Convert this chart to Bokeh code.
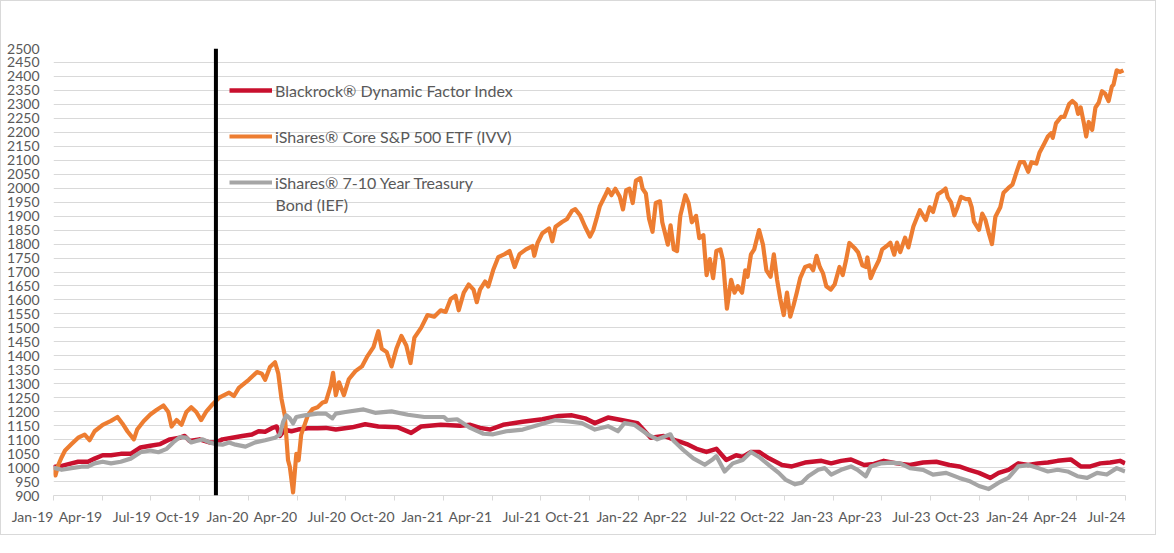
from bokeh.plotting import figure
from bokeh.models import FixedTicker, Span, Legend, LegendItem, Label, Range1d
from bokeh.embed import file_html
from bokeh.resources import INLINE

# x values are months since Jan 2019 (0 = Jan-19, 66 = Jul-24)
tick_labels = ["Jan-19", "Apr-19", "Jul-19", "Oct-19", "Jan-20", "Apr-20", "Jul-20", "Oct-20",
               "Jan-21", "Apr-21", "Jul-21", "Oct-21", "Jan-22", "Apr-22", "Jul-22", "Oct-22",
               "Jan-23", "Apr-23", "Jul-23", "Oct-23", "Jan-24", "Apr-24", "Jul-24"]
tick_months = [0, 3, 6, 9, 12, 15, 18, 21, 24, 27, 30, 33, 36, 39, 42, 45, 48, 51, 54, 57, 60, 63, 66]
y_ticks = [900, 950, 1000, 1050, 1100, 1150, 1200, 1250, 1300, 1350, 1400, 1450, 1500, 1550,
           1600, 1650, 1700, 1750, 1800, 1850, 1900, 1950, 2000, 2050, 2100, 2150, 2200, 2250,
           2300, 2350, 2400, 2450, 2500]
inception_month = 10

# iShares Core S&P 500 ETF (IVV)
ivv_t = [0, 0.12, 0.3, 0.51, 0.71, 1.11, 1.52, 1.92, 2.22, 2.53, 3.03, 3.54, 3.94, 4.24, 4.55, 4.95,
         5.15, 5.56, 5.96, 6.36, 6.77, 7.07, 7.27, 7.58, 7.88, 8.18, 8.48, 8.79, 9.09, 9.39, 9.80,
         10.20, 10.81, 11.11, 11.41, 12.02, 12.53, 12.83, 13.03, 13.33, 13.64, 13.84, 14.04, 14.24,
         14.44, 14.55, 14.75, 14.95, 15.09, 15.25, 15.66, 15.96, 16.26, 16.57,
         16.77, 17.07, 17.21, 17.38, 17.58, 17.88, 18.18, 18.59, 18.99, 19.30, 19.70, 20.00, 20.21,
         20.51, 20.81, 21.11, 21.42, 21.72, 21.98, 22.22, 22.63, 23.03, 23.44, 23.84, 24.14, 24.45,
         24.75, 24.95, 25.26, 25.56, 25.86, 26.06, 26.26, 26.57, 26.77, 27.07, 27.38, 27.78, 28.08,
         28.39, 28.69, 29.09, 29.49, 29.60, 29.80, 30.10, 30.51, 30.71, 30.91, 31.31, 31.62, 31.92,
         32.12, 32.43, 32.73, 33.03, 33.23, 33.43, 33.64, 33.94, 34.14,
         34.35, 34.59, 34.86, 35.06, 35.26, 35.46, 35.66, 35.86, 36.13, 36.27, 36.47, 36.67, 36.88,
         37.08, 37.34, 37.48, 37.68, 37.82, 37.99, 38.19, 38.39, 38.59, 38.90, 39.10, 39.30, 39.56,
         39.76, 40.01, 40.21, 40.41, 40.61, 40.81, 41.06, 41.22, 41.46, 41.72, 41.93, 42.13, 42.39,
         42.59, 42.73, 42.94, 43.14, 43.44, 43.68, 43.89, 44.15, 44.35, 44.55, 44.75, 44.96, 45.16,
         45.36, 45.56, 45.76, 45.97, 46.27, 46.57, 46.77, 46.98, 47.18, 47.38, 47.58, 47.85, 48.09,
         48.39, 48.59, 48.79, 49.00, 49.30, 49.54, 49.80, 50.01, 50.11, 50.31, 50.51, 50.81, 51.02,
         51.32, 51.52, 51.76, 51.93, 52.13, 52.43, 52.63, 52.94, 53.34, 53.70, 53.95, 54.15, 54.45,
         54.75, 54.92, 55.06, 55.26, 55.46, 55.66, 55.87, 56.17, 56.37, 56.53, 56.67, 56.98, 57.18,
         57.38, 57.58, 57.78, 57.99, 58.29, 58.49, 58.79, 59.04, 59.30, 59.50, 59.76, 60.01, 60.21,
         60.51, 60.71, 61.02, 61.22, 61.42, 61.52, 61.72, 62.03, 62.23, 62.53, 62.73, 62.94, 63.08,
         63.24, 63.44, 63.58, 63.74, 63.95, 64.15, 64.35, 64.55, 64.75, 64.96, 65.16, 65.26, 65.46,
         65.66, 65.87]
ivv_v = [1000, 972, 1010, 1038, 1061, 1084, 1107, 1118, 1098, 1130, 1153, 1167, 1181, 1158, 1130, 1101,
         1136, 1167, 1190, 1207, 1222, 1199, 1147, 1170, 1153, 1199, 1216, 1199, 1170, 1199, 1227,
         1250, 1268, 1256, 1285, 1314, 1342, 1336, 1314, 1360, 1377, 1336, 1245, 1187,
         1026, 1003, 911, 1049, 1026, 1118, 1187, 1210, 1216, 1233,
         1236, 1293, 1339, 1259, 1305, 1259, 1316, 1345, 1362, 1396, 1431, 1488, 1425,
         1414, 1362, 1425, 1471, 1437, 1374, 1465, 1500, 1546, 1540, 1563, 1557, 1603,
         1615, 1563, 1626, 1655, 1637, 1592, 1637, 1666, 1648, 1707, 1753, 1764, 1775,
         1718, 1764, 1781, 1793, 1758, 1804, 1839, 1856, 1810, 1862, 1879, 1890, 1919,
         1925, 1902, 1862, 1827, 1850, 1890, 1936, 1971, 1996,
         1975, 1998, 1970, 1924, 1993, 1998, 1947, 2027, 2036, 1998, 1981, 1890, 1844,
         1947, 1953, 1878, 1832, 1798, 1867, 1781, 1775, 1901, 1975, 1947, 1878, 1901,
         1821, 1832, 1689, 1746, 1678, 1775, 1781, 1741, 1569, 1672, 1626, 1649, 1626,
         1706, 1683, 1763, 1781, 1850, 1798, 1706, 1683, 1763, 1672, 1603, 1546, 1626,
         1540, 1580, 1626, 1678, 1718, 1724, 1706, 1758, 1718, 1695, 1649, 1637, 1655,
         1718, 1689, 1741, 1804, 1787, 1770, 1724, 1718, 1752, 1678, 1706, 1741, 1781,
         1794, 1805, 1762, 1805, 1771, 1823, 1788, 1863, 1921, 1886, 1932, 1915, 1978,
         1990, 1999, 1967, 1949, 1903, 1932, 1969, 1961, 1961, 1932, 1880, 1851, 1909,
         1886, 1840, 1800, 1898, 1932, 1984, 2001, 2013, 2059, 2093, 2093, 2059, 2093,
         2088, 2128, 2162, 2185, 2197, 2180, 2232, 2255, 2255, 2301, 2312, 2301, 2266,
         2289, 2232, 2185, 2237, 2209, 2289, 2306, 2347, 2338, 2312, 2364, 2370, 2422,
         2416, 2422]

# Blackrock Dynamic Factor Index
bdf_t = [0, 0.10, 0.51, 1.11, 1.52, 2.12, 2.53, 3.03, 3.54, 4.14, 4.75, 5.36, 5.96, 6.57, 7.17, 7.78,
         8.08, 8.38, 8.99, 9.60, 10.00, 10.40, 11.01, 11.62, 12.22, 12.63, 13.03, 13.44, 13.74, 13.94,
         14.24, 14.65, 15.05, 15.66, 16.26,
         16.77, 17.38, 18.38, 19.19, 20.00, 21.21, 22.02, 22.63, 23.84, 25.05, 25.66, 26.26, 26.87,
         27.68, 28.89, 30.10, 31.11, 31.92, 32.73, 33.33, 34.14, 34.95, 35.96, 36.77, 37.58, 38.38,
         38.99, 39.59, 40.20, 40.81,
         41.42, 42.03, 42.43, 42.94, 43.44, 44.05, 44.85, 45.46, 46.27, 47.28, 47.88, 48.49, 49.10,
         49.91, 50.51, 51.12, 51.92, 52.73, 53.54, 54.35, 55.16, 55.76, 56.37, 56.98, 57.68, 58.19,
         58.79, 59.40, 60.01, 60.61, 61.22, 61.82, 62.63, 63.24, 63.84, 64.45, 65.06, 65.66, 65.97]
bdf_v = [1000, 1003, 1006, 1015, 1021, 1021, 1032, 1044, 1044, 1049, 1049, 1072, 1078, 1084, 1101, 1107,
         1113, 1095, 1101, 1090, 1090, 1101, 1107, 1113, 1118, 1130, 1128, 1141, 1147, 1113,
         1136, 1130, 1136, 1141, 1141,
         1142, 1136, 1144, 1155, 1147, 1144, 1124, 1147, 1153, 1150, 1153, 1142, 1136,
         1153, 1164, 1173, 1185, 1187, 1176, 1159, 1179, 1170, 1159, 1107, 1113, 1096,
         1084, 1067, 1056, 1067,
         1027, 1044, 1038, 1056, 1056, 1033, 1009, 1004, 1018, 1024, 1015, 1024, 1029,
         1009, 1013, 1024, 1015, 1009, 1018, 1021, 1009, 1004, 992, 981, 963, 981,
         992, 1015, 1009, 1015, 1018, 1024, 1029, 1004, 1004, 1015, 1018, 1024, 1015]

# iShares 7-10 Year Treasury Bond (IEF)
ief_t = [0, 0.10, 0.51, 1.11, 1.72, 2.12, 2.53, 3.03, 3.54, 4.14, 4.75, 5.36, 5.96, 6.46, 6.97, 7.37,
         7.78, 8.18, 8.48, 8.79, 9.19, 9.60, 10.00, 10.40, 10.81, 11.21, 11.82, 12.42, 13.03, 13.64,
         13.94, 14.14, 14.34, 14.55, 14.75, 14.95, 15.46, 16.26,
         16.77, 17.17, 17.38, 17.98, 19.09, 19.80, 20.81, 21.82, 22.83, 24.04, 24.24, 24.85, 25.66,
         26.47, 27.07, 27.88, 28.89, 29.90, 30.91, 31.72, 32.53, 33.33, 34.14, 34.75, 35.15, 35.76,
         36.57, 37.17, 37.98, 38.18, 38.79, 39.39, 40.10, 40.60, 40.81,
         41.32, 41.82, 42.43, 42.94, 43.44, 44.05, 44.65, 45.06, 45.66, 46.07, 46.47, 47.08, 47.48,
         47.88, 48.49, 49.10, 49.50, 50.01, 50.31, 50.92, 51.52, 52.13, 52.73, 53.54, 54.15, 54.96,
         55.76, 56.37, 56.98, 57.58, 58.19, 58.79, 59.40, 60.01, 60.61, 61.22, 61.82, 62.43, 63.04,
         63.64, 64.25, 64.85, 65.46, 65.97]
ief_v = [1000, 998, 992, 998, 1003, 1003, 1015, 1021, 1015, 1021, 1032, 1055, 1061, 1055, 1067, 1090,
         1109, 1107, 1090, 1095, 1101, 1090, 1084, 1082, 1090, 1082, 1075, 1090, 1098, 1107,
         1118, 1164, 1187, 1176, 1158, 1181, 1187, 1193,
         1193, 1176, 1193, 1199, 1208, 1196, 1201, 1189, 1181, 1181, 1170, 1173, 1142,
         1121, 1119, 1130, 1136, 1153, 1170, 1165, 1159, 1136, 1148, 1130, 1159, 1153,
         1119, 1101, 1119, 1096, 1062, 1033, 1010, 1030, 1041,
         986, 1015, 1027, 1056, 1038, 1009, 981, 957, 940, 946, 969, 992, 998,
         975, 992, 1004, 992, 969, 1004, 1015, 1018, 1015, 998, 992, 975, 981,
         963, 952, 934, 923, 946, 963, 1004, 1009, 998, 986, 992, 986, 969,
         963, 981, 975, 998, 986]

FONT = "Lato"
TEXT_COLOR = "#595959"
GRID_COLOR = "#d9d9d9"

p = figure(width=1156, height=535, x_range=Range1d(0, 66), y_range=Range1d(900, 2500),
           output_backend="svg", toolbar_location=None,
           min_border_left=52, min_border_right=32, min_border_top=47, min_border_bottom=38)
p.outline_line_color = None
p.background_fill_color = "white"
p.border_fill_color = "white"
p.styles = {"border": "1px solid #d9d9d9"}

p.xgrid.grid_line_color = None
p.ygrid.grid_line_color = GRID_COLOR
p.ygrid.ticker = FixedTicker(ticks=y_ticks)

p.yaxis.ticker = FixedTicker(ticks=y_ticks)
p.yaxis.axis_line_color = None
p.yaxis.major_tick_line_color = None
p.yaxis.major_tick_out = 0
p.yaxis.major_tick_in = 0
p.yaxis.minor_tick_line_color = None
p.yaxis.minor_tick_out = 0
p.yaxis.major_label_text_font = FONT
p.yaxis.major_label_text_font_size = "14px"
p.yaxis.major_label_text_color = TEXT_COLOR
p.yaxis.major_label_standoff = 14

p.xaxis.ticker = FixedTicker(ticks=tick_months)
p.xaxis.major_label_overrides = {m: lab for m, lab in zip(tick_months, tick_labels)}
p.xaxis.major_label_orientation = 0.0001
p.xaxis.axis_line_color = GRID_COLOR
p.xaxis.major_tick_line_color = GRID_COLOR
p.xaxis.major_tick_out = 5
p.xaxis.major_tick_in = 0
p.xaxis.minor_tick_line_color = None
p.xaxis.minor_tick_out = 0
p.xaxis.major_label_standoff = 16
p.xaxis.major_label_text_font = FONT
p.xaxis.major_label_text_font_size = "14px"
p.xaxis.major_label_text_color = TEXT_COLOR

r_bdf = p.line(bdf_t, bdf_v, line_color="#C8102E", line_width=4.5, line_join="round")
r_ivv = p.line(ivv_t, ivv_v, line_color="#ED7D31", line_width=4.2, line_join="round")
r_ief = p.line(ief_t, ief_v, line_color="#A5A5A5", line_width=4.2, line_join="round")

p.add_layout(Span(location=inception_month, dimension="height", line_color="black", line_width=4))

legend = Legend(items=[
    LegendItem(label="Blackrock® Dynamic Factor Index", renderers=[r_bdf]),
    LegendItem(label="iShares® Core S&P 500 ETF (IVV)", renderers=[r_ivv]),
    LegendItem(label="iShares® 7-10 Year Treasury", renderers=[r_ief]),
], location=(176, 303), orientation="vertical", glyph_width=43, glyph_height=20, label_height=20,
    label_standoff=3, spacing=26, padding=0, margin=0, border_line_color=None,
    background_fill_alpha=0, label_text_font=FONT, label_text_font_size="16px",
    label_text_color=TEXT_COLOR)
p.add_layout(legend)
p.add_layout(Label(x=222, y=291, x_units="screen", y_units="screen", text="Bond (IEF)",
                   text_font=FONT, text_font_size="16px", text_color=TEXT_COLOR,
                   text_baseline="middle"))

open("out.html", "w").write(file_html(p, INLINE))
